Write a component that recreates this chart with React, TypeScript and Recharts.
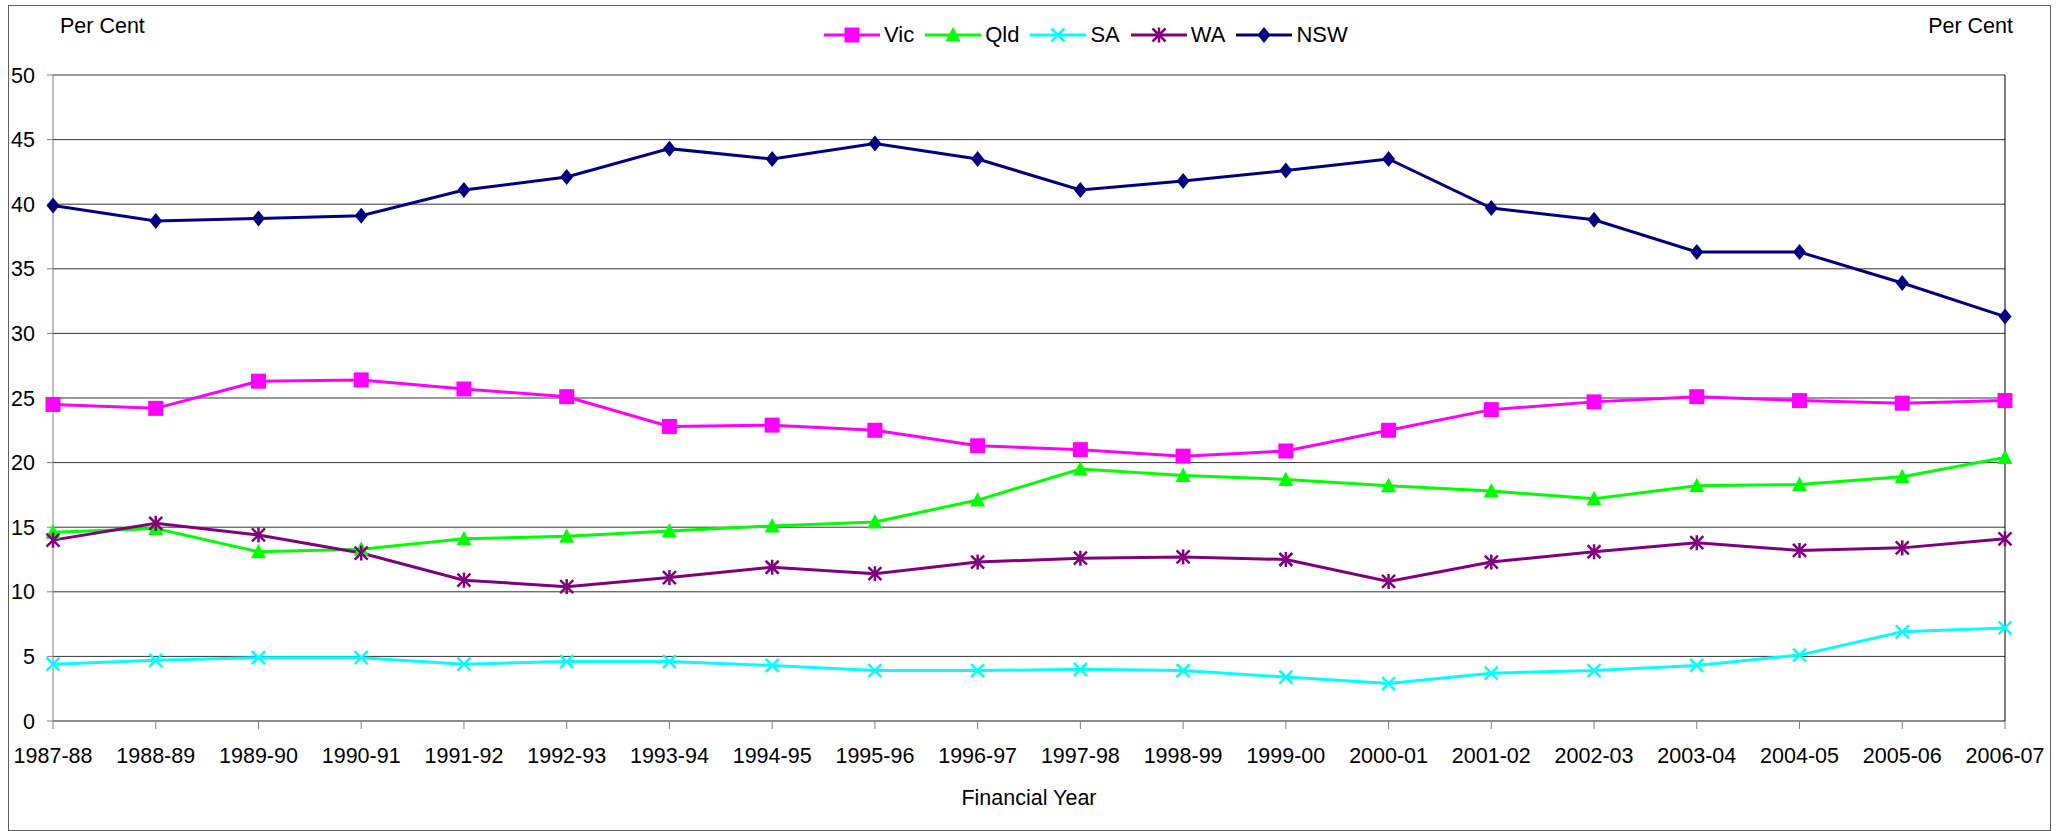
import React from "react";
import {
  LineChart,
  Line,
  XAxis,
  YAxis,
  CartesianGrid,
  Legend,
  Customized,
} from "recharts";

const years = [
  "1987-88", "1988-89", "1989-90", "1990-91", "1991-92", "1992-93", "1993-94",
  "1994-95", "1995-96", "1996-97", "1997-98", "1998-99", "1999-00", "2000-01",
  "2001-02", "2002-03", "2003-04", "2004-05", "2005-06", "2006-07",
];

const vic = [24.5, 24.2, 26.3, 26.4, 25.7, 25.1, 22.8, 22.9, 22.5, 21.3, 21.0, 20.5, 20.9, 22.5, 24.1, 24.7, 25.1, 24.8, 24.6, 24.8];
const qld = [14.6, 14.9, 13.1, 13.3, 14.1, 14.3, 14.7, 15.1, 15.4, 17.1, 19.5, 19.0, 18.7, 18.2, 17.8, 17.2, 18.2, 18.3, 18.9, 20.4];
const sa = [4.4, 4.7, 4.9, 4.9, 4.4, 4.6, 4.6, 4.3, 3.9, 3.9, 4.0, 3.9, 3.4, 2.9, 3.7, 3.9, 4.3, 5.1, 6.9, 7.2];
const wa = [14.0, 15.3, 14.4, 13.0, 10.9, 10.4, 11.1, 11.9, 11.4, 12.3, 12.6, 12.7, 12.5, 10.8, 12.3, 13.1, 13.8, 13.2, 13.4, 14.1];
const nsw = [39.9, 38.7, 38.9, 39.1, 41.1, 42.1, 44.3, 43.5, 44.7, 43.5, 41.1, 41.8, 42.6, 43.5, 39.7, 38.8, 36.3, 36.3, 33.9, 31.3];

const seriesNames = ["Vic", "Qld", "SA", "WA", "NSW"];
const yTicks = [0, 5, 10, 15, 20, 25, 30, 35, 40, 45, 50];

const data = years.map((name, i) => ({
  name,
  Vic: vic[i],
  Qld: qld[i],
  SA: sa[i],
  WA: wa[i],
  NSW: nsw[i],
}));

const font = "Arial, 'Liberation Sans', sans-serif";

const colors: any = {
  Vic: "#FF00FF",
  Qld: "#00FF00",
  SA: "#00FFFF",
  WA: "#800080",
  NSW: "#000080",
};

const markers: any = {
  Vic: "square",
  Qld: "triangle",
  SA: "x",
  WA: "star",
  NSW: "diamond",
};

const Marker = ({ kind, cx, cy, color }: any) => {
  if (cx == null || cy == null) return null;
  switch (kind) {
    case "square":
      return <rect x={cx - 7.5} y={cy - 7.5} width={15} height={15} fill={color} />;
    case "triangle":
      return (
        <polygon
          points={`${cx},${cy - 8} ${cx + 7.5},${cy + 6.5} ${cx - 7.5},${cy + 6.5}`}
          fill={color}
        />
      );
    case "x":
      return (
        <g stroke={color} strokeWidth={2.5}>
          <line x1={cx - 6.5} y1={cy - 6.5} x2={cx + 6.5} y2={cy + 6.5} />
          <line x1={cx - 6.5} y1={cy + 6.5} x2={cx + 6.5} y2={cy - 6.5} />
        </g>
      );
    case "star":
      return (
        <g stroke={color} strokeWidth={2.5}>
          <line x1={cx - 6.5} y1={cy - 6.5} x2={cx + 6.5} y2={cy + 6.5} />
          <line x1={cx - 6.5} y1={cy + 6.5} x2={cx + 6.5} y2={cy - 6.5} />
          <line x1={cx} y1={cy - 7.5} x2={cx} y2={cy + 7.5} />
        </g>
      );
    default:
      return (
        <polygon
          points={`${cx},${cy - 8} ${cx + 6.5},${cy} ${cx},${cy + 8} ${cx - 6.5},${cy}`}
          fill={color}
        />
      );
  }
};

const makeDot = (key: string) => (props: any) => (
  <Marker
    key={`${key}-${props.index}`}
    kind={markers[key]}
    cx={props.cx}
    cy={props.cy}
    color={colors[key]}
  />
);

// keep the legend in series order, not sorted
const LegendContent = () => (
  <div style={{ display: "flex", alignItems: "center", fontFamily: font, fontSize: 22 }}>
    {seriesNames.map((k) => (
      <div key={k} style={{ display: "flex", alignItems: "center", marginRight: 11 }}>
        <svg width={56} height={24}>
          <line x1={0} y1={12} x2={56} y2={12} stroke={colors[k]} strokeWidth={3} />
          <Marker kind={markers[k]} cx={28} cy={12} color={colors[k]} />
        </svg>
        <span style={{ marginLeft: 4, lineHeight: "24px", color: "#000" }}>{k}</span>
      </div>
    ))}
  </div>
);

const Texts = () => (
  <g fontFamily={font} fontSize={21.5} fill="#000">
    <text x={60} y={33}>Per Cent</text>
    <text x={2013} y={33} textAnchor="end">Per Cent</text>
    <text x={1029} y={805} textAnchor="middle">Financial Year</text>
  </g>
);

export default function App() {
  const tick = { fontSize: 21.5, fill: "#000", fontFamily: font };
  return (
    <div style={{ position: "absolute", left: 0, top: 0, width: 2062, height: 831 }}>
      <div
        style={{
          position: "absolute",
          left: 8,
          top: 5,
          width: 2041,
          height: 824,
          border: "1px solid #606060",
          pointerEvents: "none",
        }}
      />
      <LineChart
        width={2062}
        height={831}
        data={data}
        margin={{ top: 75, right: 17, bottom: 50, left: 13 }}
        style={{ fontFamily: font }}
      >
        <CartesianGrid vertical={false} stroke="#000" strokeOpacity={0.8} />
        <XAxis
          dataKey="name"
          interval={0}
          height={60}
          tick={tick}
          tickSize={8}
          tickMargin={19}
          stroke="#808080"
        />
        <YAxis
          domain={[0, 50]}
          ticks={yTicks}
          width={40}
          tick={tick}
          tickSize={6}
          tickMargin={12}
          stroke="#808080"
          allowDataOverflow
        />
        <YAxis
          yAxisId="right"
          orientation="right"
          domain={[0, 50]}
          ticks={yTicks}
          width={40}
          tick={tick}
          tickSize={6}
          tickMargin={12}
          stroke="#000"
        />
        <Legend
          verticalAlign="middle"
          layout="horizontal"
          content={<LegendContent />}
          wrapperStyle={{ left: 824, top: 23, width: 560, bottom: "auto", right: "auto" }}
        />
        {seriesNames.map((k) => (
          <Line
            key={k}
            dataKey={k}
            type="linear"
            stroke={colors[k]}
            strokeWidth={3}
            dot={makeDot(k)}
            activeDot={false}
            isAnimationActive={false}
          />
        ))}
        <Customized component={Texts} />
      </LineChart>
    </div>
  );
}
